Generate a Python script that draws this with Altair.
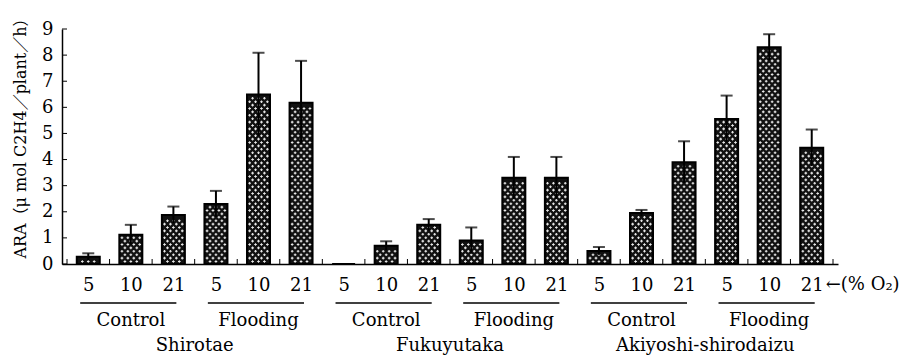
import altair as alt
import pandas as pd

cultivars = ["Shirotae", "Fukuyutaka", "Akiyoshi-shirodaizu"]
treatments = ["Control", "Flooding"]
o2_levels = ["5", "10", "21"]

# ARA means and upper error (SE) per cultivar: Control 5,10,21 then Flooding 5,10,21
shirotae_ara = [0.28, 1.12, 1.88, 2.30, 6.49, 6.18]
shirotae_err = [0.13, 0.38, 0.32, 0.50, 1.60, 1.60]
fukuyutaka_ara = [0.0, 0.70, 1.50, 0.90, 3.30, 3.30]
fukuyutaka_err = [0.0, 0.17, 0.22, 0.50, 0.80, 0.80]
akiyoshi_ara = [0.50, 1.95, 3.90, 5.55, 8.30, 4.45]
akiyoshi_err = [0.15, 0.12, 0.80, 0.90, 0.50, 0.70]
y_ticks = list(range(10))

series = [(shirotae_ara, shirotae_err), (fukuyutaka_ara, fukuyutaka_err), (akiyoshi_ara, akiyoshi_err)]

W, H = 776, 235
rows = []
i = 0
for ci, cv in enumerate(cultivars):
    vals, errs = series[ci]
    k = 0
    for tr in treatments:
        for o2 in o2_levels:
            v, e = vals[k], errs[k]
            rows.append({"i": i, "cultivar": cv, "treatment": tr, "o2": o2,
                         "ara": v, "lo": max(0.0, v - e), "hi": v + e})
            k += 1
            i += 1
df = pd.DataFrame(rows)
n = len(rows)

# crosshatch texture of the bars (white crosses on black), derived from each bar's height
step_x = W / n          # px per category
step_y = H / 9.0        # px per unit
tex = []
for r in rows:
    top_px = r["ara"] * step_y - 2.5
    row_k = 0
    y_px = 2.5
    while y_px < top_px:
        offs = [-6, 0, 6] if row_k % 2 == 0 else [-9, -3, 3, 9]
        for o in offs:
            tex.append({"tx": r["i"] + o / step_x, "ty": y_px / step_y})
        y_px += 3.4
        row_k += 1
texdf = pd.DataFrame(tex)

groups = []
for gi in range(len(cultivars) * len(treatments)):
    first = gi * 3
    groups.append({"first": first - 0.19, "mid": first + 1, "last": first + 2.07,
                   "label": treatments[gi % 2]})
gdf = pd.DataFrame(groups)
cdf = pd.DataFrame([{"x": ci * 6 + 2.5, "label": cv} for ci, cv in enumerate(cultivars)])
tdf = pd.DataFrame({"v": y_ticks})
bdf = pd.DataFrame({"b": [k - 0.5 for k in range(n + 1)]})
edf = pd.DataFrame({"x": [n - 1], "label": ["←(% O₂)"]})

FONT = "DejaVu Serif, Noto Sans CJK JP"

xscale = alt.Scale(domain=[-0.5, n - 0.5], nice=False, zero=False)
xaxis = alt.Axis(values=list(range(n)), labelExpr="['5','10','21'][datum.value % 3]",
                 labelAngle=0, ticks=False, labelPadding=12, labelFontSize=18, title=None,
                 labelFlush=False, labelOverlap=False)
yscale = alt.Scale(domain=[0, 9], nice=False)
yaxis = alt.Axis(values=y_ticks, ticks=False, labelPadding=9, labelFontSize=18,
                 title="ARA（μ mol C2H4／plant／h）", titleAngle=-90, titleX=-42, titleY=105,
                 titleAlign="center", titleBaseline="middle", titleFontSize=16,
                 titleFontWeight="normal", titleFont=FONT)


def X(field):
    return alt.X(f"{field}:Q", scale=xscale, axis=xaxis)


def Y(field):
    return alt.Y(f"{field}:Q", scale=yscale, axis=yaxis)


bars = alt.Chart(df).mark_bar(fill="#111111", stroke="black", strokeWidth=2, width=23).encode(
    x=X("i"), y=Y("ara"))
texture = alt.Chart(texdf).mark_point(shape="cross", filled=True, color="white", size=7,
                                      strokeWidth=0, opacity=0.9).encode(
    x=X("tx"), y=Y("ty"))
err = alt.Chart(df).mark_rule(color="black", strokeWidth=2).encode(
    x=X("i"), y=Y("lo"), y2="hi:Q")
caps = alt.Chart(df).mark_tick(color="black", thickness=2, size=12, orient="horizontal").encode(
    x=X("i"), y=Y("hi"))
yt = alt.Chart(tdf).mark_rule(color="black", strokeWidth=1).encode(
    y=Y("v"), x=alt.value(0), x2=alt.value(5))
xt = alt.Chart(bdf).mark_rule(color="black", strokeWidth=1).encode(
    x=X("b"), y=alt.value(H), y2=alt.value(H - 5))
glines = alt.Chart(gdf).mark_rule(color="black", strokeWidth=1.5).encode(
    x=X("first"), x2="last:Q", y=alt.value(274))
gtext = alt.Chart(gdf).mark_text(font=FONT, fontSize=18, color="black", baseline="alphabetic").encode(
    x=X("mid"), y=alt.value(297), text="label:N")
ctext = alt.Chart(cdf).mark_text(font=FONT, fontSize=18, color="black", baseline="alphabetic").encode(
    x=X("x"), y=alt.value(322), text="label:N")
o2text = alt.Chart(edf).mark_text(font=FONT, fontSize=18, color="black", baseline="middle",
                                  align="left", dx=14).encode(
    x=X("x"), y=alt.value(256), text="label:N")

chart = alt.layer(bars, texture, err, caps, yt, xt, glines, gtext, ctext, o2text).properties(
    width=W, height=H,
    autosize=alt.AutoSizeParams(type="none"),
    padding={"left": 54, "top": 21, "right": 63, "bottom": 91},
).configure_axis(
    labelFont=FONT, labelColor="black", domainColor="black", domainWidth=1.5, grid=False,
    titleColor="black",
).configure_view(strokeWidth=0)

chart.save("out.html", embed_options={"renderer": "svg", "actions": False})
